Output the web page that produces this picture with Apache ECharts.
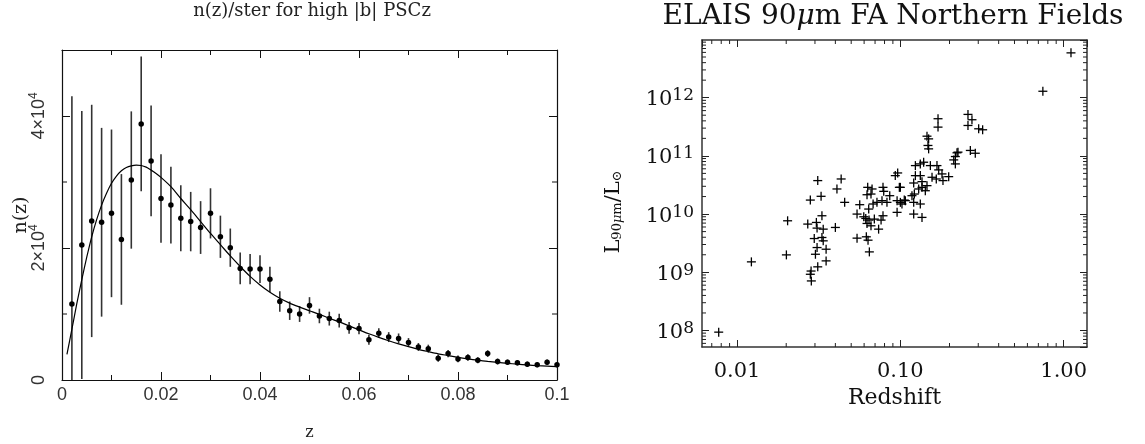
<!DOCTYPE html>
<html><head><meta charset="utf-8">
<script src="https://cdn.jsdelivr.net/npm/echarts@6/dist/echarts.min.js"></script>
<style>html,body{margin:0;padding:0;background:#fff}#c{width:1145px;height:444px}</style>
</head><body><div id="c"></div>
<script>
// ---------- Left panel: n(z)/ster for high |b| PSCz (values in units of 10^4) ----------
const nzZ = [0.002,0.004,0.006,0.008,0.010,0.012,0.014,0.016,0.018,0.020,
             0.022,0.024,0.026,0.028,0.030,0.032,0.034,0.036,0.038,0.040,
             0.042,0.044,0.046,0.048,0.050,0.052,0.054,0.056,0.058,0.060,
             0.062,0.064,0.066,0.068,0.070,0.072,0.074,0.076,0.078,0.080,
             0.082,0.084,0.086,0.088,0.090,0.092,0.094,0.096,0.098,0.100];
const nzVal = [1.15,2.045,2.41,2.39,2.525,2.13,3.03,3.88,3.32,2.75,
               2.65,2.45,2.40,2.31,2.525,2.17,2.005,1.69,1.68,1.68,
               1.525,1.19,1.05,1.00,1.13,0.97,0.93,0.90,0.79,0.78,
               0.61,0.71,0.65,0.63,0.57,0.50,0.475,0.33,0.40,0.32,
               0.34,0.30,0.40,0.28,0.27,0.26,0.24,0.23,0.27,0.23];
const nzErr = [3.15,2.03,1.76,1.43,1.27,0.99,1.04,1.02,0.84,0.67,
               0.58,0.50,0.45,0.40,0.38,0.32,0.29,0.24,0.23,0.21,
               0.19,0.155,0.14,0.12,0.125,0.11,0.105,0.105,0.09,0.085,
               0.075,0.075,0.075,0.075,0.065,0.06,0.06,0.055,0.055,0.05,
               0.05,0.045,0.05,0.045,0.04,0.04,0.04,0.035,0.04,0.035];
const modelZ = [0.001,0.002,0.003,0.004,0.005,0.006,0.007,0.008,0.009,0.010,
                0.011,0.012,0.013,0.014,0.015,0.016,0.017,0.018,0.019,0.020,
                0.022,0.024,0.026,0.028,0.030,0.032,0.034,0.036,0.038,0.040,
                0.042,0.044,0.046,0.048,0.050,0.052,0.054,0.056,0.058,0.060,
                0.062,0.064,0.066,0.068,0.070,0.072,0.074,0.076,0.078,0.080,
                0.082,0.084,0.086,0.088,0.090,0.092,0.094,0.096,0.098,0.100];
const modelN = [0.39,0.77,1.16,1.52,1.86,2.17,2.43,2.65,2.83,2.98,
                3.09,3.17,3.22,3.245,3.255,3.25,3.225,3.18,3.13,3.07,
                2.93,2.75,2.58,2.40,2.22,2.05,1.88,1.72,1.57,1.44,
                1.33,1.24,1.165,1.105,1.05,0.995,0.935,0.88,0.82,0.76,
                0.70,0.645,0.595,0.548,0.505,0.465,0.43,0.397,0.37,0.343,
                0.32,0.30,0.283,0.268,0.253,0.24,0.228,0.218,0.21,0.202];
const leftMinorY = [1, 3];

// ---------- Right panel: ELAIS 90um FA Northern Fields ----------
const elaisZ = [0.00772,0.01224,0.02005,0.0204,0.746,1.109,
  0.0281,0.0312,0.0327,0.0409,0.0434,0.0456,0.0271,0.0306,0.0331,0.0309,0.0337,0.0400,
  0.0297,0.0331,0.0337,0.0309,0.0351,0.0302,0.0351,0.0312,0.0284,0.0281,0.0285,
  0.0564,0.0625,0.0661,0.0671,0.0631,0.0783,0.0791,0.0772,0.0828,0.0861,0.0931,0.0963,
  0.0986,0.0955,0.1000,0.1057,0.0955,0.0543,0.0597,0.0614,0.0643,0.0693,0.0625,0.0661,
  0.0762,0.0736,0.0783,0.0543,0.0619,0.0634,0.0646,0.0681,0.0719,0.0640,
  0.1207,0.1178,0.1218,0.1207,0.1236,0.1325,0.1357,0.1236,0.1325,0.1389,0.1527,0.1676,
  0.1717,0.1799,0.1977,0.1563,0.1357,0.1456,0.1295,0.1422,0.1325,0.1357,0.1073,0.1023,
  0.1207,0.1000,0.1456,0.1490,0.1476,0.1490,0.1701,0.1701,0.1824,0.1660,
  0.2172,0.2223,0.2123,0.2172,0.2254,0.2595,0.2745,0.2595,0.3017,0.3191,0.2683,0.2877];
const elaisL = [9.36e7,1.51e9,1.99e9,7.67e9,1.29e12,5.89e12,
  1.74e10,3.76e10,2.02e10,2.70e10,4.01e10,1.59e10,6.73e9,7.18e9,9.36e9,5.74e9,5.51e9,5.89e9,
  3.80e9,3.96e9,3.47e9,2.66e9,2.49e9,2.04e9,1.57e9,1.24e9,1.05e9,9.24e8,7.10e8,
  1.45e10,2.15e10,2.21e10,2.70e10,2.88e10,2.88e10,2.46e10,1.70e10,1.59e10,2.07e10,4.58e10,5.09e10,
  2.88e10,1.70e10,1.59e10,1.74e10,1.07e10,1.00e10,8.99e9,8.42e9,7.88e9,8.20e9,6.90e9,6.29e9,
  7.88e9,5.51e9,9.36e9,3.86e9,4.07e9,3.56e9,2.24e9,1.49e10,1.59e10,1.22e10,
  1.00e10,2.07e10,2.21e10,3.42e10,4.58e10,4.58e10,3.61e10,6.81e10,7.28e10,7.78e10,6.81e10,6.81e10,
  5.74e10,4.90e10,4.40e10,4.29e10,2.88e10,3.08e10,2.70e10,2.52e10,1.49e10,8.77e9,1.70e10,1.49e10,
  1.59e10,2.88e10,2.18e11,1.96e11,1.51e11,1.32e11,4.35e11,3.12e11,3.76e10,4.01e10,
  9.74e10,1.13e11,8.53e10,7.28e10,1.16e11,5.16e11,4.18e11,3.33e11,2.92e11,2.81e11,1.24e11,1.11e11];
const rightXRange = [0.0061, 1.39];
const rightYRange = [5.2e7, 9.8e12];
const minorMult = [2,3,4,5,6,7,8,9];
const rightMinorX = [];
[-3,-2,-1,0].forEach(function(e){ minorMult.forEach(function(m){ const v = m*Math.pow(10,e); if (v>rightXRange[0] && v<rightXRange[1]) rightMinorX.push(v); }); });
const rightMinorY = [];
[7,8,9,10,11,12].forEach(function(e){ minorMult.forEach(function(m){ const v = m*Math.pow(10,e); if (v>rightYRange[0] && v<rightYRange[1]) rightMinorY.push(v); }); });

const SERIF = 'DejaVu Serif';
const SANS = 'Liberation Sans';

function tickSeries(xi, yi, xr, yr, xs, ys, len, color) {
  const data = [];
  xs.forEach(function(v){ data.push([v, yr[0], 0]); });
  ys.forEach(function(v){ data.push([xr[0], v, 1]); });
  return {
    type:'custom', xAxisIndex:xi, yAxisIndex:yi, silent:true, clip:false, z:5,
    data:data, encode:{x:0, y:1},
    renderItem:function(params, api){
      const st = {stroke:color, lineWidth:1};
      if (api.value(2) === 0) {
        const v = api.value(0);
        const b = api.coord([v, yr[0]]), t = api.coord([v, yr[1]]);
        return {type:'group', children:[
          {type:'line', shape:{x1:b[0],y1:b[1],x2:b[0],y2:b[1]-len}, style:st},
          {type:'line', shape:{x1:t[0],y1:t[1],x2:t[0],y2:t[1]+len}, style:st}]};
      }
      const v = api.value(1);
      const l = api.coord([xr[0], v]), r = api.coord([xr[1], v]);
      return {type:'group', children:[
        {type:'line', shape:{x1:l[0],y1:l[1],x2:l[0]+len,y2:l[1]}, style:st},
        {type:'line', shape:{x1:r[0],y1:r[1],x2:r[0]-len,y2:r[1]}, style:st}]};
    }
  };
}

const leftLine = {onZero:false, lineStyle:{color:'#111', width:1.2}};
const rightLine = {onZero:false, lineStyle:{color:'#333', width:1.5}};

const option = {
  animation:false,
  backgroundColor:'#fff',
  grid:[
    {left:62, top:50, width:495, height:330, outerBoundsMode:'none', containLabel:false},
    {left:702, top:40, width:385, height:307, outerBoundsMode:'none', containLabel:false}
  ],
  xAxis:[
    {gridIndex:0, type:'value', position:'bottom', min:0, max:0.1, interval:0.02,
     axisLine:leftLine, splitLine:{show:false},
     axisTick:{inside:true, length:8, lineStyle:{color:'#111'}},
     minorTick:{show:true, splitNumber:2, length:5, lineStyle:{color:'#111'}},
     axisLabel:{margin:6, color:'#333', fontFamily:SANS, fontSize:18,
       formatter:function(v){ return String(+v.toFixed(2)); }},
     name:'z', nameLocation:'middle', nameGap:45,
     nameTextStyle:{fontFamily:SERIF, fontSize:16, color:'#222'}},
    {gridIndex:0, type:'value', position:'top', min:0, max:0.1, interval:0.02,
     axisLine:leftLine, splitLine:{show:false},
     axisTick:{inside:true, length:8, lineStyle:{color:'#111'}},
     minorTick:{show:true, splitNumber:2, length:5, lineStyle:{color:'#111'}},
     axisLabel:{show:false}},
    {gridIndex:1, type:'log', logBase:10, position:'bottom', min:rightXRange[0], max:rightXRange[1],
     axisLine:rightLine, splitLine:{show:false},
     axisTick:{inside:true, length:7, lineStyle:{color:'#222'}},
     axisLabel:{margin:14, color:'#111', fontFamily:SERIF, fontSize:21, showMinLabel:false, showMaxLabel:false,
       formatter:function(v){ const e=Math.log10(v); if (Math.abs(e-Math.round(e))>1e-6) return ''; return Math.pow(10,Math.round(e)).toFixed(2); }},
     name:'Redshift', nameLocation:'middle', nameGap:40,
     nameTextStyle:{fontFamily:SERIF, fontSize:22, color:'#111'}},
    {gridIndex:1, type:'log', logBase:10, position:'top', min:rightXRange[0], max:rightXRange[1],
     axisLine:rightLine, splitLine:{show:false},
     axisTick:{inside:true, length:7, lineStyle:{color:'#222'}},
     axisLabel:{show:false}}
  ],
  yAxis:[
    {gridIndex:0, type:'value', position:'left', min:0, max:5, interval:2,
     axisLine:leftLine, splitLine:{show:false},
     axisTick:{inside:true, length:8, lineStyle:{color:'#111'}},
     axisLabel:{rotate:90, margin:16, color:'#333', showMaxLabel:false,
       formatter:function(v){ if (v===0) return '{b|0}'; if (v>4.5) return ''; return '{b|'+v+'×10}{s|4}'; },
       rich:{b:{fontFamily:SANS, fontSize:18, lineHeight:18, padding:[4,0,0,0], color:'#333'},
             s:{fontFamily:SANS, fontSize:12, lineHeight:10, verticalAlign:'top', color:'#333'}}}},
    {gridIndex:0, type:'value', position:'right', min:0, max:5, interval:2,
     axisLine:leftLine, splitLine:{show:false},
     axisTick:{inside:true, length:8, lineStyle:{color:'#111'}},
     axisLabel:{show:false}},
    {gridIndex:1, type:'log', logBase:10, position:'left', min:rightYRange[0], max:rightYRange[1],
     axisLine:rightLine, splitLine:{show:false},
     axisTick:{inside:true, length:7, lineStyle:{color:'#222'}},
     axisLabel:{margin:8, showMinLabel:false, showMaxLabel:false,
       formatter:function(v){ const e=Math.log10(v); if (Math.abs(e-Math.round(e))>1e-6) return ''; return '{b|10}{s|'+Math.round(e)+'}'; },
       rich:{b:{fontFamily:SERIF, fontSize:21, lineHeight:21, padding:[4,0,0,0], color:'#111'},
             s:{fontFamily:SERIF, fontSize:17, lineHeight:10, verticalAlign:'top', color:'#111'}}}},
    {gridIndex:1, type:'log', logBase:10, position:'right', min:rightYRange[0], max:rightYRange[1],
     axisLine:rightLine, splitLine:{show:false},
     axisTick:{inside:true, length:7, lineStyle:{color:'#222'}},
     axisLabel:{show:false}}
  ],
  graphic:[
    {type:'text', x:312, y:11, style:{text:'n(z)/ster for high |b| PSCz', fontFamily:SERIF, fontSize:18,
      fill:'#222', align:'center', verticalAlign:'middle'}},
    {type:'text', x:21, y:215, rotation:Math.PI/2, style:{text:'n(z)', fontFamily:SERIF, fontSize:19,
      fill:'#222', align:'center', verticalAlign:'middle'}},
    {type:'text', x:893, y:17, style:{text:'{n|ELAIS 90}{i|μ}{n|m FA Northern Fields}',
      align:'center', verticalAlign:'middle',
      rich:{n:{fontFamily:SERIF, fontSize:28, fill:'#111'}, i:{fontFamily:SERIF, fontSize:28, fontStyle:'italic', fill:'#111'}}}},
    {type:'text', x:614, y:212, rotation:Math.PI/2, style:{
      text:'{L|L}{s|90}{si|μ}{s|m}{L|/L}{s|⊙}', align:'center', verticalAlign:'middle',
      rich:{L:{fontFamily:SERIF, fontSize:21, lineHeight:21, padding:[0,0,3,0], verticalAlign:'top', fill:'#111'},
            s:{fontFamily:SERIF, fontSize:13, lineHeight:13, verticalAlign:'bottom', fill:'#111'},
            si:{fontFamily:SERIF, fontSize:13, lineHeight:13, verticalAlign:'bottom', fontStyle:'italic', fill:'#111'}}}}
  ],
  series:[
    {type:'custom', xAxisIndex:0, yAxisIndex:0, silent:true, clip:false, z:3,
     data: nzZ.map(function(z,i){ return [z, nzVal[i], nzErr[i]]; }),
     encode:{x:0, y:1},
     renderItem:function(params, api){
       const z=api.value(0), v=api.value(1), e=api.value(2);
       const hi = api.coord([z, v+e]), lo = api.coord([z, Math.max(0, v-e)]);
       return {type:'line', shape:{x1:hi[0],y1:hi[1],x2:lo[0],y2:lo[1]}, style:{stroke:'#333', lineWidth:1.6}};
     }},
    {type:'line', xAxisIndex:0, yAxisIndex:0, z:4, showSymbol:false, smooth:0.3,
     data: modelZ.map(function(z,i){ return [z, modelN[i]]; }),
     lineStyle:{color:'#000', width:1.2}},
    {type:'scatter', xAxisIndex:0, yAxisIndex:0, z:6, symbolSize:5.5,
     data: nzZ.map(function(z,i){ return [z, nzVal[i]]; }),
     itemStyle:{color:'#000', opacity:1}},
    tickSeries(0, 0, [0,0.1], [0,5], [], leftMinorY, 5, '#111'),
    tickSeries(2, 2, rightXRange, rightYRange, rightMinorX, rightMinorY, 4, '#222'),
    {type:'custom', xAxisIndex:2, yAxisIndex:2, silent:true, clip:false, z:6,
     data: elaisZ.map(function(z,i){ return [z, elaisL[i]]; }),
     encode:{x:0, y:1},
     renderItem:function(params, api){
       const p = api.coord([api.value(0), api.value(1)]); const h = 4.5;
       const st = {stroke:'#000', lineWidth:1.3};
       return {type:'group', children:[
         {type:'line', shape:{x1:p[0]-h,y1:p[1],x2:p[0]+h,y2:p[1]}, style:st},
         {type:'line', shape:{x1:p[0],y1:p[1]-h,x2:p[0],y2:p[1]+h}, style:st}]};
     }}
  ]
};
const chart = echarts.init(document.getElementById('c'), null, {renderer:'canvas'});
chart.setOption(option);
</script>
</body></html>
